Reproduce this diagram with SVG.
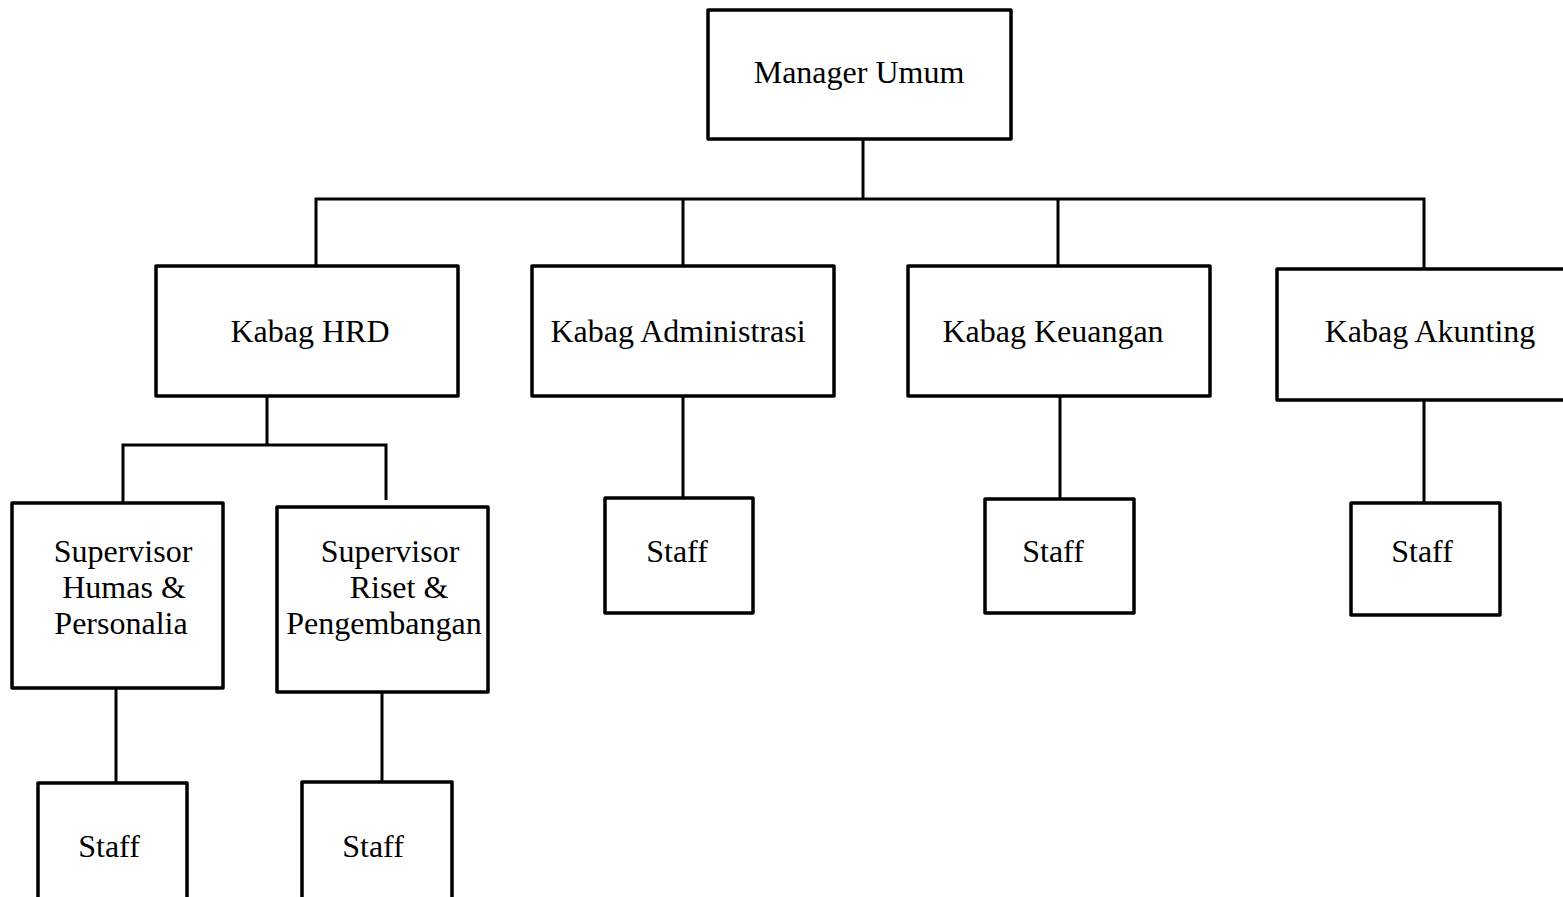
<svg xmlns="http://www.w3.org/2000/svg" width="1563" height="897" viewBox="0 0 1563 897">
<style>
.box{fill:#fff;stroke:#000;stroke-width:3.5;stroke-linejoin:round}
.ln{fill:none;stroke:#000;stroke-width:3}
text{font-family:"Liberation Serif","Times New Roman",serif;font-size:32px;fill:#000;text-anchor:middle}
</style>
<rect width="1563" height="897" fill="#fff"/>
<g id="connectors">
<line class="ln" x1="863" y1="139" x2="863" y2="199"/>
<polyline class="ln" points="316,266 316,199 1424,199 1424,269"/>
<line class="ln" x1="683" y1="199" x2="683" y2="266"/>
<line class="ln" x1="1058" y1="199" x2="1058" y2="266"/>
<line class="ln" x1="267" y1="396" x2="267" y2="445"/>
<polyline class="ln" points="123,503 123,445 386,445 386,500"/>
<line class="ln" x1="683" y1="396" x2="683" y2="498"/>
<line class="ln" x1="1060" y1="396" x2="1060" y2="498"/>
<line class="ln" x1="1424" y1="400" x2="1424" y2="503"/>
<line class="ln" x1="116" y1="688" x2="116" y2="783"/>
<line class="ln" x1="382" y1="692" x2="382" y2="782"/>
</g>
<g id="manager"><rect class="box" x="708" y="10" width="303" height="129"/><text x="859" y="83">Manager Umum</text></g>
<g id="hrd"><rect class="box" x="156" y="266" width="302" height="130"/><text x="310" y="342">Kabag HRD</text></g>
<g id="administrasi"><rect class="box" x="532" y="266" width="302" height="130"/><text x="678" y="342">Kabag Administrasi</text></g>
<g id="keuangan"><rect class="box" x="908" y="266" width="302" height="130"/><text x="1053" y="342">Kabag Keuangan</text></g>
<g id="akunting"><rect class="box" x="1277" y="269" width="300" height="131"/><text x="1430" y="342">Kabag Akunting</text></g>
<g id="sup-humas"><rect class="box" x="12" y="503" width="211" height="185"/><text x="123" y="562">Supervisor</text><text x="124" y="598">Humas &amp;</text><text x="121" y="634">Personalia</text></g>
<g id="sup-riset"><rect class="box" x="277" y="507" width="211" height="185"/><text x="390" y="562">Supervisor</text><text x="399" y="598">Riset &amp;</text><text x="384" y="634">Pengembangan</text></g>
<g id="staff-admin"><rect class="box" x="605" y="498" width="148" height="115"/><text x="677" y="562">Staff</text></g>
<g id="staff-keuangan"><rect class="box" x="985" y="499" width="149" height="114"/><text x="1053" y="562">Staff</text></g>
<g id="staff-akunting"><rect class="box" x="1351" y="503" width="149" height="112"/><text x="1422" y="562">Staff</text></g>
<g id="staff-humas"><rect class="box" x="38" y="783" width="149" height="130"/><text x="109" y="857">Staff</text></g>
<g id="staff-riset"><rect class="box" x="302" y="782" width="150" height="130"/><text x="373" y="857">Staff</text></g>
</svg>
